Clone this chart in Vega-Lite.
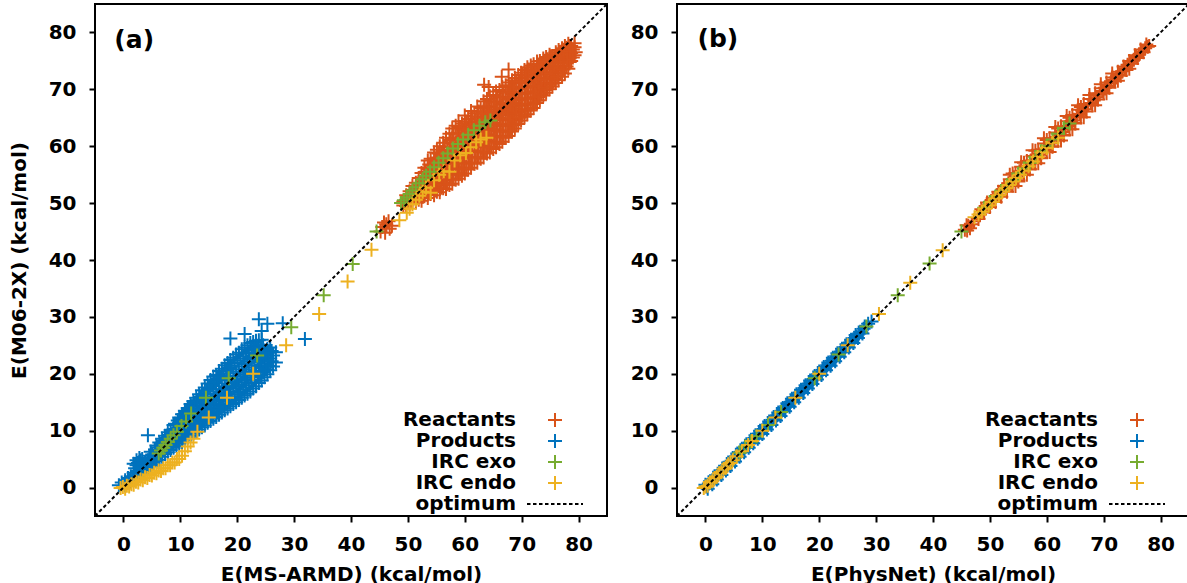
{
"$schema": "https://vega.github.io/schema/vega-lite/v6.json",
"padding": {"left": 8, "top": 3, "right": 0, "bottom": 0},
"bounds": "flush",
"spacing": 70,
"datasets": {
"a": [
{"series":"Reactants","x":45.5,"y":45.8},{"series":"Reactants","x":46.2,"y":46.3},{"series":"Reactants","x":46.8,"y":45.5},{"series":"Reactants","x":45.2,"y":45.0},{"series":"Reactants","x":46.0,"y":44.8},{"series":"Reactants","x":46.6,"y":46.8},{"series":"Reactants","x":47.2,"y":46.0},{"series":"Reactants","x":45.8,"y":46.6},
{"series":"Reactants","x":49.2,"y":49.6},{"series":"Reactants","x":49.2,"y":50.3},
{"series":"Reactants","x":49.7,"y":49.5},{"series":"Reactants","x":49.7,"y":50.6},{"series":"Reactants","x":49.7,"y":51.4},
{"series":"Reactants","x":50.3,"y":49.8},{"series":"Reactants","x":50.3,"y":51.0},{"series":"Reactants","x":50.3,"y":52.1},
{"series":"Reactants","x":50.8,"y":50.2},{"series":"Reactants","x":50.8,"y":51.5},{"series":"Reactants","x":50.8,"y":53.0},
{"series":"Reactants","x":51.4,"y":50.1},{"series":"Reactants","x":51.4,"y":51.9},{"series":"Reactants","x":51.4,"y":53.6},
{"series":"Reactants","x":51.9,"y":50.6},{"series":"Reactants","x":51.9,"y":52.6},{"series":"Reactants","x":51.9,"y":54.4},
{"series":"Reactants","x":52.4,"y":50.4},{"series":"Reactants","x":52.4,"y":51.8},{"series":"Reactants","x":52.4,"y":53.5},{"series":"Reactants","x":52.4,"y":55.3},
{"series":"Reactants","x":52.9,"y":51.2},{"series":"Reactants","x":52.9,"y":53.0},{"series":"Reactants","x":52.9,"y":54.7},{"series":"Reactants","x":52.9,"y":56.2},
{"series":"Reactants","x":53.5,"y":50.9},{"series":"Reactants","x":53.5,"y":52.4},{"series":"Reactants","x":53.5,"y":54.3},{"series":"Reactants","x":53.5,"y":56.0},{"series":"Reactants","x":53.5,"y":57.5},
{"series":"Reactants","x":54.0,"y":51.6},{"series":"Reactants","x":54.0,"y":53.4},{"series":"Reactants","x":54.0,"y":55.5},{"series":"Reactants","x":54.0,"y":57.8},
{"series":"Reactants","x":54.6,"y":51.4},{"series":"Reactants","x":54.6,"y":52.9},{"series":"Reactants","x":54.6,"y":54.8},{"series":"Reactants","x":54.6,"y":56.6},{"series":"Reactants","x":54.6,"y":58.9},
{"series":"Reactants","x":55.1,"y":52.0},{"series":"Reactants","x":55.1,"y":54.1},{"series":"Reactants","x":55.1,"y":56.2},{"series":"Reactants","x":55.1,"y":58.0},{"series":"Reactants","x":55.1,"y":59.4},
{"series":"Reactants","x":55.6,"y":51.9},{"series":"Reactants","x":55.6,"y":53.5},{"series":"Reactants","x":55.6,"y":55.6},{"series":"Reactants","x":55.6,"y":57.7},{"series":"Reactants","x":55.6,"y":60.0},
{"series":"Reactants","x":56.2,"y":52.6},{"series":"Reactants","x":56.2,"y":54.6},{"series":"Reactants","x":56.2,"y":56.9},{"series":"Reactants","x":56.2,"y":59.1},{"series":"Reactants","x":56.2,"y":60.6},
{"series":"Reactants","x":56.7,"y":52.5},{"series":"Reactants","x":56.7,"y":54.0},{"series":"Reactants","x":56.7,"y":56.0},{"series":"Reactants","x":56.7,"y":58.3},{"series":"Reactants","x":56.7,"y":61.5},
{"series":"Reactants","x":57.3,"y":53.2},{"series":"Reactants","x":57.3,"y":55.4},{"series":"Reactants","x":57.3,"y":57.6},{"series":"Reactants","x":57.3,"y":59.9},{"series":"Reactants","x":57.3,"y":62.2},
{"series":"Reactants","x":57.8,"y":53.4},{"series":"Reactants","x":57.8,"y":55.0},{"series":"Reactants","x":57.8,"y":57.0},{"series":"Reactants","x":57.8,"y":59.3},{"series":"Reactants","x":57.8,"y":61.4},{"series":"Reactants","x":57.8,"y":63.1},
{"series":"Reactants","x":58.4,"y":54.1},{"series":"Reactants","x":58.4,"y":56.3},{"series":"Reactants","x":58.4,"y":58.5},{"series":"Reactants","x":58.4,"y":60.7},{"series":"Reactants","x":58.4,"y":63.6},
{"series":"Reactants","x":58.9,"y":54.3},{"series":"Reactants","x":58.9,"y":56.0},{"series":"Reactants","x":58.9,"y":58.0},{"series":"Reactants","x":58.9,"y":60.2},{"series":"Reactants","x":58.9,"y":62.3},{"series":"Reactants","x":58.9,"y":64.4},
{"series":"Reactants","x":59.5,"y":54.8},{"series":"Reactants","x":59.5,"y":57.2},{"series":"Reactants","x":59.5,"y":59.4},{"series":"Reactants","x":59.5,"y":61.7},{"series":"Reactants","x":59.5,"y":64.0},
{"series":"Reactants","x":60.0,"y":55.2},{"series":"Reactants","x":60.0,"y":57.0},{"series":"Reactants","x":60.0,"y":59.0},{"series":"Reactants","x":60.0,"y":61.0},{"series":"Reactants","x":60.0,"y":63.2},{"series":"Reactants","x":60.0,"y":65.4},
{"series":"Reactants","x":60.6,"y":55.9},{"series":"Reactants","x":60.6,"y":58.1},{"series":"Reactants","x":60.6,"y":60.3},{"series":"Reactants","x":60.6,"y":62.6},{"series":"Reactants","x":60.6,"y":64.8},
{"series":"Reactants","x":61.1,"y":56.2},{"series":"Reactants","x":61.1,"y":58.0},{"series":"Reactants","x":61.1,"y":60.0},{"series":"Reactants","x":61.1,"y":62.1},{"series":"Reactants","x":61.1,"y":64.2},{"series":"Reactants","x":61.1,"y":66.2},
{"series":"Reactants","x":61.7,"y":56.9},{"series":"Reactants","x":61.7,"y":59.2},{"series":"Reactants","x":61.7,"y":61.5},{"series":"Reactants","x":61.7,"y":63.6},{"series":"Reactants","x":61.7,"y":65.8},
{"series":"Reactants","x":62.2,"y":57.1},{"series":"Reactants","x":62.2,"y":59.0},{"series":"Reactants","x":62.2,"y":61.0},{"series":"Reactants","x":62.2,"y":63.1},{"series":"Reactants","x":62.2,"y":65.2},{"series":"Reactants","x":62.2,"y":67.0},
{"series":"Reactants","x":62.8,"y":57.8},{"series":"Reactants","x":62.8,"y":60.2},{"series":"Reactants","x":62.8,"y":62.4},{"series":"Reactants","x":62.8,"y":64.6},{"series":"Reactants","x":62.8,"y":66.7},
{"series":"Reactants","x":63.3,"y":58.0},{"series":"Reactants","x":63.3,"y":59.8},{"series":"Reactants","x":63.3,"y":61.9},{"series":"Reactants","x":63.3,"y":64.0},{"series":"Reactants","x":63.3,"y":66.1},{"series":"Reactants","x":63.3,"y":67.9},
{"series":"Reactants","x":63.9,"y":58.7},{"series":"Reactants","x":63.9,"y":61.0},{"series":"Reactants","x":63.9,"y":63.2},{"series":"Reactants","x":63.9,"y":65.5},{"series":"Reactants","x":63.9,"y":68.3},
{"series":"Reactants","x":64.4,"y":58.9},{"series":"Reactants","x":64.4,"y":60.7},{"series":"Reactants","x":64.4,"y":62.8},{"series":"Reactants","x":64.4,"y":64.9},{"series":"Reactants","x":64.4,"y":67.0},{"series":"Reactants","x":64.4,"y":68.8},
{"series":"Reactants","x":65.0,"y":59.5},{"series":"Reactants","x":65.0,"y":61.8},{"series":"Reactants","x":65.0,"y":64.1},{"series":"Reactants","x":65.0,"y":66.4},{"series":"Reactants","x":65.0,"y":69.0},
{"series":"Reactants","x":65.5,"y":59.8},{"series":"Reactants","x":65.5,"y":61.6},{"series":"Reactants","x":65.5,"y":63.6},{"series":"Reactants","x":65.5,"y":65.7},{"series":"Reactants","x":65.5,"y":67.8},{"series":"Reactants","x":65.5,"y":69.6},
{"series":"Reactants","x":66.1,"y":60.4},{"series":"Reactants","x":66.1,"y":62.7},{"series":"Reactants","x":66.1,"y":65.0},{"series":"Reactants","x":66.1,"y":67.3},{"series":"Reactants","x":66.1,"y":69.9},
{"series":"Reactants","x":66.6,"y":60.8},{"series":"Reactants","x":66.6,"y":62.6},{"series":"Reactants","x":66.6,"y":64.6},{"series":"Reactants","x":66.6,"y":66.6},{"series":"Reactants","x":66.6,"y":68.6},{"series":"Reactants","x":66.6,"y":70.4},
{"series":"Reactants","x":67.2,"y":61.5},{"series":"Reactants","x":67.2,"y":63.7},{"series":"Reactants","x":67.2,"y":65.9},{"series":"Reactants","x":67.2,"y":68.2},{"series":"Reactants","x":67.2,"y":70.7},
{"series":"Reactants","x":67.7,"y":61.8},{"series":"Reactants","x":67.7,"y":63.6},{"series":"Reactants","x":67.7,"y":65.5},{"series":"Reactants","x":67.7,"y":67.5},{"series":"Reactants","x":67.7,"y":69.5},{"series":"Reactants","x":67.7,"y":71.2},
{"series":"Reactants","x":68.3,"y":62.6},{"series":"Reactants","x":68.3,"y":64.8},{"series":"Reactants","x":68.3,"y":67.0},{"series":"Reactants","x":68.3,"y":69.2},{"series":"Reactants","x":68.3,"y":71.6},
{"series":"Reactants","x":68.8,"y":63.1},{"series":"Reactants","x":68.8,"y":64.8},{"series":"Reactants","x":68.8,"y":66.6},{"series":"Reactants","x":68.8,"y":68.5},{"series":"Reactants","x":68.8,"y":70.4},{"series":"Reactants","x":68.8,"y":72.0},
{"series":"Reactants","x":69.4,"y":63.9},{"series":"Reactants","x":69.4,"y":66.0},{"series":"Reactants","x":69.4,"y":68.1},{"series":"Reactants","x":69.4,"y":70.2},{"series":"Reactants","x":69.4,"y":72.5},
{"series":"Reactants","x":69.9,"y":64.5},{"series":"Reactants","x":69.9,"y":66.3},{"series":"Reactants","x":69.9,"y":68.2},{"series":"Reactants","x":69.9,"y":70.1},{"series":"Reactants","x":69.9,"y":72.0},{"series":"Reactants","x":69.9,"y":72.9},
{"series":"Reactants","x":70.5,"y":65.2},{"series":"Reactants","x":70.5,"y":67.3},{"series":"Reactants","x":70.5,"y":69.4},{"series":"Reactants","x":70.5,"y":71.5},{"series":"Reactants","x":70.5,"y":73.4},
{"series":"Reactants","x":71.0,"y":65.6},{"series":"Reactants","x":71.0,"y":67.4},{"series":"Reactants","x":71.0,"y":69.3},{"series":"Reactants","x":71.0,"y":71.2},{"series":"Reactants","x":71.0,"y":73.0},{"series":"Reactants","x":71.0,"y":73.9},
{"series":"Reactants","x":71.6,"y":66.3},{"series":"Reactants","x":71.6,"y":68.4},{"series":"Reactants","x":71.6,"y":70.5},{"series":"Reactants","x":71.6,"y":72.6},{"series":"Reactants","x":71.6,"y":74.2},
{"series":"Reactants","x":72.1,"y":66.7},{"series":"Reactants","x":72.1,"y":68.6},{"series":"Reactants","x":72.1,"y":70.5},{"series":"Reactants","x":72.1,"y":72.4},{"series":"Reactants","x":72.1,"y":74.4},
{"series":"Reactants","x":72.7,"y":67.6},{"series":"Reactants","x":72.7,"y":69.6},{"series":"Reactants","x":72.7,"y":71.6},{"series":"Reactants","x":72.7,"y":73.5},{"series":"Reactants","x":72.7,"y":74.9},
{"series":"Reactants","x":73.2,"y":68.1},{"series":"Reactants","x":73.2,"y":70.0},{"series":"Reactants","x":73.2,"y":71.9},{"series":"Reactants","x":73.2,"y":73.8},{"series":"Reactants","x":73.2,"y":75.0},
{"series":"Reactants","x":73.8,"y":68.9},{"series":"Reactants","x":73.8,"y":70.8},{"series":"Reactants","x":73.8,"y":72.6},{"series":"Reactants","x":73.8,"y":74.4},{"series":"Reactants","x":73.8,"y":75.4},
{"series":"Reactants","x":74.3,"y":69.4},{"series":"Reactants","x":74.3,"y":71.2},{"series":"Reactants","x":74.3,"y":73.0},{"series":"Reactants","x":74.3,"y":74.8},{"series":"Reactants","x":74.3,"y":75.7},
{"series":"Reactants","x":74.9,"y":70.0},{"series":"Reactants","x":74.9,"y":71.9},{"series":"Reactants","x":74.9,"y":73.7},{"series":"Reactants","x":74.9,"y":75.4},{"series":"Reactants","x":74.9,"y":76.1},
{"series":"Reactants","x":75.4,"y":70.5},{"series":"Reactants","x":75.4,"y":72.3},{"series":"Reactants","x":75.4,"y":74.1},{"series":"Reactants","x":75.4,"y":75.8},
{"series":"Reactants","x":76.0,"y":71.1},{"series":"Reactants","x":76.0,"y":73.0},{"series":"Reactants","x":76.0,"y":74.8},{"series":"Reactants","x":76.0,"y":76.5},
{"series":"Reactants","x":76.5,"y":71.6},{"series":"Reactants","x":76.5,"y":73.4},{"series":"Reactants","x":76.5,"y":75.2},{"series":"Reactants","x":76.5,"y":76.9},
{"series":"Reactants","x":77.1,"y":72.2},{"series":"Reactants","x":77.1,"y":74.1},{"series":"Reactants","x":77.1,"y":75.9},{"series":"Reactants","x":77.1,"y":77.2},
{"series":"Reactants","x":77.6,"y":72.8},{"series":"Reactants","x":77.6,"y":74.6},{"series":"Reactants","x":77.6,"y":76.3},{"series":"Reactants","x":77.6,"y":77.6},
{"series":"Reactants","x":78.2,"y":73.6},{"series":"Reactants","x":78.2,"y":75.3},{"series":"Reactants","x":78.2,"y":76.9},{"series":"Reactants","x":78.2,"y":78.0},
{"series":"Reactants","x":78.7,"y":75.0},{"series":"Reactants","x":78.7,"y":76.4},{"series":"Reactants","x":78.7,"y":77.6},
{"series":"Reactants","x":79.3,"y":76.0},{"series":"Reactants","x":79.3,"y":77.4},
{"series":"Reactants","x":49.45,"y":50.0},{"series":"Reactants","x":49.95,"y":50.1},{"series":"Reactants","x":49.95,"y":51.0},{"series":"Reactants","x":50.55,"y":50.4},{"series":"Reactants","x":50.55,"y":51.6},{"series":"Reactants","x":51.05,"y":50.9},{"series":"Reactants","x":51.05,"y":52.3},{"series":"Reactants","x":51.65,"y":51.0},{"series":"Reactants","x":51.65,"y":52.8},{"series":"Reactants","x":52.15,"y":51.6},{"series":"Reactants","x":52.15,"y":53.5},
{"series":"Reactants","x":52.65,"y":51.1},{"series":"Reactants","x":52.65,"y":52.6},{"series":"Reactants","x":52.65,"y":54.4},{"series":"Reactants","x":53.15,"y":52.1},{"series":"Reactants","x":53.15,"y":53.9},{"series":"Reactants","x":53.15,"y":55.5},
{"series":"Reactants","x":53.75,"y":51.7},{"series":"Reactants","x":53.75,"y":53.4},{"series":"Reactants","x":53.75,"y":55.2},{"series":"Reactants","x":53.75,"y":56.8},{"series":"Reactants","x":54.25,"y":52.5},{"series":"Reactants","x":54.25,"y":54.5},{"series":"Reactants","x":54.25,"y":56.7},
{"series":"Reactants","x":54.85,"y":52.2},{"series":"Reactants","x":54.85,"y":53.9},{"series":"Reactants","x":54.85,"y":55.7},{"series":"Reactants","x":54.85,"y":57.8},{"series":"Reactants","x":55.35,"y":53.1},{"series":"Reactants","x":55.35,"y":55.2},{"series":"Reactants","x":55.35,"y":57.1},{"series":"Reactants","x":55.35,"y":58.7},
{"series":"Reactants","x":55.85,"y":52.7},{"series":"Reactants","x":55.85,"y":54.6},{"series":"Reactants","x":55.85,"y":56.7},{"series":"Reactants","x":55.85,"y":58.9},{"series":"Reactants","x":56.45,"y":53.6},{"series":"Reactants","x":56.45,"y":55.8},{"series":"Reactants","x":56.45,"y":58.0},{"series":"Reactants","x":56.45,"y":59.9},
{"series":"Reactants","x":56.95,"y":53.3},{"series":"Reactants","x":56.95,"y":55.0},{"series":"Reactants","x":56.95,"y":57.2},{"series":"Reactants","x":56.95,"y":59.9},{"series":"Reactants","x":57.55,"y":54.3},{"series":"Reactants","x":57.55,"y":56.5},{"series":"Reactants","x":57.55,"y":58.8},{"series":"Reactants","x":57.55,"y":61.1},
{"series":"Reactants","x":58.05,"y":54.2},{"series":"Reactants","x":58.05,"y":56.0},{"series":"Reactants","x":58.05,"y":58.2},{"series":"Reactants","x":58.05,"y":60.4},{"series":"Reactants","x":58.05,"y":62.3},
{"series":"Reactants","x":58.65,"y":55.2},{"series":"Reactants","x":58.65,"y":57.4},{"series":"Reactants","x":58.65,"y":59.6},{"series":"Reactants","x":58.65,"y":62.2},
{"series":"Reactants","x":59.15,"y":55.2},{"series":"Reactants","x":59.15,"y":57.0},{"series":"Reactants","x":59.15,"y":59.1},{"series":"Reactants","x":59.15,"y":61.3},{"series":"Reactants","x":59.15,"y":63.4},
{"series":"Reactants","x":59.75,"y":56.0},{"series":"Reactants","x":59.75,"y":58.3},{"series":"Reactants","x":59.75,"y":60.6},{"series":"Reactants","x":59.75,"y":62.9},
{"series":"Reactants","x":60.25,"y":56.1},{"series":"Reactants","x":60.25,"y":58.0},{"series":"Reactants","x":60.25,"y":60.0},{"series":"Reactants","x":60.25,"y":62.1},{"series":"Reactants","x":60.25,"y":64.3},
{"series":"Reactants","x":60.85,"y":57.0},{"series":"Reactants","x":60.85,"y":59.2},{"series":"Reactants","x":60.85,"y":61.5},{"series":"Reactants","x":60.85,"y":63.7},
{"series":"Reactants","x":61.35,"y":57.1},{"series":"Reactants","x":61.35,"y":59.0},{"series":"Reactants","x":61.35,"y":61.1},{"series":"Reactants","x":61.35,"y":63.2},{"series":"Reactants","x":61.35,"y":65.2},
{"series":"Reactants","x":61.95,"y":58.1},{"series":"Reactants","x":61.95,"y":60.4},{"series":"Reactants","x":61.95,"y":62.6},{"series":"Reactants","x":61.95,"y":64.7},
{"series":"Reactants","x":62.45,"y":58.1},{"series":"Reactants","x":62.45,"y":60.0},{"series":"Reactants","x":62.45,"y":62.1},{"series":"Reactants","x":62.45,"y":64.2},{"series":"Reactants","x":62.45,"y":66.1},
{"series":"Reactants","x":63.05,"y":59.0},{"series":"Reactants","x":63.05,"y":61.3},{"series":"Reactants","x":63.05,"y":63.5},{"series":"Reactants","x":63.05,"y":65.7},
{"series":"Reactants","x":63.55,"y":58.9},{"series":"Reactants","x":63.55,"y":60.9},{"series":"Reactants","x":63.55,"y":63.0},{"series":"Reactants","x":63.55,"y":65.1},{"series":"Reactants","x":63.55,"y":67.0},
{"series":"Reactants","x":64.15,"y":59.9},{"series":"Reactants","x":64.15,"y":62.1},{"series":"Reactants","x":64.15,"y":64.4},{"series":"Reactants","x":64.15,"y":66.9},
{"series":"Reactants","x":64.65,"y":59.8},{"series":"Reactants","x":64.65,"y":61.8},{"series":"Reactants","x":64.65,"y":63.9},{"series":"Reactants","x":64.65,"y":66.0},{"series":"Reactants","x":64.65,"y":67.9},
{"series":"Reactants","x":65.25,"y":60.7},{"series":"Reactants","x":65.25,"y":63.0},{"series":"Reactants","x":65.25,"y":65.3},{"series":"Reactants","x":65.25,"y":67.7},
{"series":"Reactants","x":65.75,"y":60.7},{"series":"Reactants","x":65.75,"y":62.6},{"series":"Reactants","x":65.75,"y":64.7},{"series":"Reactants","x":65.75,"y":66.8},{"series":"Reactants","x":65.75,"y":68.7},
{"series":"Reactants","x":66.35,"y":61.6},{"series":"Reactants","x":66.35,"y":63.9},{"series":"Reactants","x":66.35,"y":66.2},{"series":"Reactants","x":66.35,"y":68.6},
{"series":"Reactants","x":66.85,"y":61.7},{"series":"Reactants","x":66.85,"y":63.6},{"series":"Reactants","x":66.85,"y":65.6},{"series":"Reactants","x":66.85,"y":67.6},{"series":"Reactants","x":66.85,"y":69.5},
{"series":"Reactants","x":67.45,"y":62.6},{"series":"Reactants","x":67.45,"y":64.8},{"series":"Reactants","x":67.45,"y":67.1},{"series":"Reactants","x":67.45,"y":69.5},
{"series":"Reactants","x":67.95,"y":62.7},{"series":"Reactants","x":67.95,"y":64.6},{"series":"Reactants","x":67.95,"y":66.5},{"series":"Reactants","x":67.95,"y":68.5},{"series":"Reactants","x":67.95,"y":70.4},
{"series":"Reactants","x":68.55,"y":63.7},{"series":"Reactants","x":68.55,"y":65.9},{"series":"Reactants","x":68.55,"y":68.1},{"series":"Reactants","x":68.55,"y":70.4},
{"series":"Reactants","x":69.05,"y":64.0},{"series":"Reactants","x":69.05,"y":65.7},{"series":"Reactants","x":69.05,"y":67.6},{"series":"Reactants","x":69.05,"y":69.5},{"series":"Reactants","x":69.05,"y":71.2},
{"series":"Reactants","x":69.65,"y":65.0},{"series":"Reactants","x":69.65,"y":67.1},{"series":"Reactants","x":69.65,"y":69.2},{"series":"Reactants","x":69.65,"y":71.4},
{"series":"Reactants","x":70.15,"y":65.4},{"series":"Reactants","x":70.15,"y":67.3},{"series":"Reactants","x":70.15,"y":69.2},{"series":"Reactants","x":70.15,"y":71.1},{"series":"Reactants","x":70.15,"y":72.5},
{"series":"Reactants","x":70.75,"y":66.3},{"series":"Reactants","x":70.75,"y":68.4},{"series":"Reactants","x":70.75,"y":70.5},{"series":"Reactants","x":70.75,"y":72.5},
{"series":"Reactants","x":71.25,"y":66.5},{"series":"Reactants","x":71.25,"y":68.4},{"series":"Reactants","x":71.25,"y":70.3},{"series":"Reactants","x":71.25,"y":72.1},{"series":"Reactants","x":71.25,"y":73.5},
{"series":"Reactants","x":71.85,"y":67.4},{"series":"Reactants","x":71.85,"y":69.5},{"series":"Reactants","x":71.85,"y":71.6},{"series":"Reactants","x":71.85,"y":73.4},
{"series":"Reactants","x":72.35,"y":67.7},{"series":"Reactants","x":72.35,"y":69.6},{"series":"Reactants","x":72.35,"y":71.5},{"series":"Reactants","x":72.35,"y":73.4},
{"series":"Reactants","x":72.95,"y":68.6},{"series":"Reactants","x":72.95,"y":70.6},{"series":"Reactants","x":72.95,"y":72.6},{"series":"Reactants","x":72.95,"y":74.2},
{"series":"Reactants","x":73.45,"y":69.1},{"series":"Reactants","x":73.45,"y":71.0},{"series":"Reactants","x":73.45,"y":72.9},{"series":"Reactants","x":73.45,"y":74.4},
{"series":"Reactants","x":74.05,"y":69.9},{"series":"Reactants","x":74.05,"y":71.7},{"series":"Reactants","x":74.05,"y":73.5},{"series":"Reactants","x":74.05,"y":74.9},
{"series":"Reactants","x":74.55,"y":70.3},{"series":"Reactants","x":74.55,"y":72.1},{"series":"Reactants","x":74.55,"y":73.9},{"series":"Reactants","x":74.55,"y":75.3},
{"series":"Reactants","x":75.15,"y":71.0},{"series":"Reactants","x":75.15,"y":72.8},{"series":"Reactants","x":75.15,"y":74.6},{"series":"Reactants","x":75.15,"y":75.8},
{"series":"Reactants","x":75.7,"y":71.8},{"series":"Reactants","x":75.7,"y":73.7},{"series":"Reactants","x":75.7,"y":75.2},
{"series":"Reactants","x":76.25,"y":72.3},{"series":"Reactants","x":76.25,"y":74.1},{"series":"Reactants","x":76.25,"y":75.9},
{"series":"Reactants","x":76.8,"y":72.9},{"series":"Reactants","x":76.8,"y":74.8},{"series":"Reactants","x":76.8,"y":76.6},
{"series":"Reactants","x":77.35,"y":73.5},{"series":"Reactants","x":77.35,"y":75.3},{"series":"Reactants","x":77.35,"y":76.8},
{"series":"Reactants","x":77.9,"y":74.0},{"series":"Reactants","x":77.9,"y":75.7},{"series":"Reactants","x":77.9,"y":77.3},
{"series":"Reactants","x":78.45,"y":74.8},{"series":"Reactants","x":78.45,"y":76.6},{"series":"Reactants","x":78.45,"y":77.6},
{"series":"Reactants","x":79.0,"y":75.6},{"series":"Reactants","x":79.0,"y":77.0},
{"series":"Reactants","x":63.4,"y":70.8},{"series":"Reactants","x":67.7,"y":73.5},{"series":"Reactants","x":64.2,"y":70.4},{"series":"Reactants","x":66.5,"y":72.2},{"series":"Reactants","x":79.3,"y":78.1},{"series":"Reactants","x":78.0,"y":75.2},{"series":"Reactants","x":79.5,"y":76.5},
{"series":"Products","x":-0.8,"y":0.4},{"series":"Products","x":-0.3,"y":0.9},{"series":"Products","x":0.3,"y":0.4},{"series":"Products","x":0.3,"y":1.3},{"series":"Products","x":0.8,"y":0.9},{"series":"Products","x":0.8,"y":1.7},{"series":"Products","x":1.3,"y":1.0},{"series":"Products","x":1.3,"y":2.0},
{"series":"Products","x":1.8,"y":1.4},{"series":"Products","x":1.8,"y":2.6},{"series":"Products","x":1.8,"y":4.2},{"series":"Products","x":2.3,"y":1.8},{"series":"Products","x":2.3,"y":3.9},{"series":"Products","x":2.3,"y":4.8},{"series":"Products","x":2.8,"y":2.2},{"series":"Products","x":2.8,"y":4.5},{"series":"Products","x":2.8,"y":5.2},
{"series":"Products","x":3.3,"y":2.6},{"series":"Products","x":3.3,"y":4.0},{"series":"Products","x":3.3,"y":5.0},{"series":"Products","x":3.8,"y":3.0},{"series":"Products","x":3.8,"y":4.4},{"series":"Products","x":4.3,"y":3.3},{"series":"Products","x":4.3,"y":4.8},{"series":"Products","x":4.3,"y":9.2},
{"series":"Products","x":4.8,"y":3.8},{"series":"Products","x":4.8,"y":5.3},{"series":"Products","x":4.8,"y":6.3},{"series":"Products","x":5.3,"y":4.1},{"series":"Products","x":5.3,"y":5.6},{"series":"Products","x":5.8,"y":4.6},{"series":"Products","x":5.8,"y":6.0},{"series":"Products","x":5.8,"y":7.4},
{"series":"Products","x":6.3,"y":4.9},{"series":"Products","x":6.3,"y":6.4},{"series":"Products","x":6.3,"y":7.9},{"series":"Products","x":6.8,"y":5.4},{"series":"Products","x":6.8,"y":7.0},{"series":"Products","x":6.8,"y":8.6},{"series":"Products","x":7.3,"y":5.9},{"series":"Products","x":7.3,"y":7.5},{"series":"Products","x":7.3,"y":9.1},
{"series":"Products","x":7.8,"y":6.2},{"series":"Products","x":7.8,"y":7.9},{"series":"Products","x":7.8,"y":9.7},{"series":"Products","x":8.3,"y":6.6},{"series":"Products","x":8.3,"y":8.3},{"series":"Products","x":8.3,"y":10.1},
{"series":"Products","x":8.8,"y":7.0},{"series":"Products","x":8.8,"y":8.6},{"series":"Products","x":8.8,"y":10.3},{"series":"Products","x":8.8,"y":11.0},{"series":"Products","x":9.3,"y":7.3},{"series":"Products","x":9.3,"y":9.1},{"series":"Products","x":9.3,"y":10.9},
{"series":"Products","x":9.8,"y":7.7},{"series":"Products","x":9.8,"y":9.5},{"series":"Products","x":9.8,"y":11.3},{"series":"Products","x":9.8,"y":12.3},{"series":"Products","x":10.3,"y":8.0},{"series":"Products","x":10.3,"y":9.8},{"series":"Products","x":10.3,"y":11.6},{"series":"Products","x":10.3,"y":12.9},
{"series":"Products","x":10.8,"y":8.4},{"series":"Products","x":10.8,"y":10.3},{"series":"Products","x":10.8,"y":12.1},{"series":"Products","x":10.8,"y":13.5},{"series":"Products","x":11.3,"y":8.8},{"series":"Products","x":11.3,"y":10.6},{"series":"Products","x":11.3,"y":12.5},{"series":"Products","x":11.3,"y":14.0},
{"series":"Products","x":11.8,"y":9.1},{"series":"Products","x":11.8,"y":11.0},{"series":"Products","x":11.8,"y":12.9},{"series":"Products","x":11.8,"y":14.7},{"series":"Products","x":12.3,"y":9.5},{"series":"Products","x":12.3,"y":11.5},{"series":"Products","x":12.3,"y":13.5},{"series":"Products","x":12.3,"y":15.2},
{"series":"Products","x":12.8,"y":9.8},{"series":"Products","x":12.8,"y":11.8},{"series":"Products","x":12.8,"y":13.9},{"series":"Products","x":12.8,"y":15.8},{"series":"Products","x":13.3,"y":10.2},{"series":"Products","x":13.3,"y":12.3},{"series":"Products","x":13.3,"y":14.4},{"series":"Products","x":13.3,"y":16.4},
{"series":"Products","x":13.8,"y":10.6},{"series":"Products","x":13.8,"y":12.7},{"series":"Products","x":13.8,"y":14.9},{"series":"Products","x":13.8,"y":17.1},{"series":"Products","x":14.3,"y":10.9},{"series":"Products","x":14.3,"y":13.1},{"series":"Products","x":14.3,"y":15.3},{"series":"Products","x":14.3,"y":17.6},
{"series":"Products","x":14.8,"y":11.4},{"series":"Products","x":14.8,"y":13.6},{"series":"Products","x":14.8,"y":15.9},{"series":"Products","x":14.8,"y":18.3},{"series":"Products","x":15.3,"y":11.7},{"series":"Products","x":15.3,"y":14.0},{"series":"Products","x":15.3,"y":16.4},{"series":"Products","x":15.3,"y":18.9},
{"series":"Products","x":15.8,"y":12.1},{"series":"Products","x":15.8,"y":14.5},{"series":"Products","x":15.8,"y":16.9},{"series":"Products","x":15.8,"y":19.5},{"series":"Products","x":16.3,"y":12.4},{"series":"Products","x":16.3,"y":14.8},{"series":"Products","x":16.3,"y":17.3},{"series":"Products","x":16.3,"y":19.8},
{"series":"Products","x":16.8,"y":12.8},{"series":"Products","x":16.8,"y":15.3},{"series":"Products","x":16.8,"y":17.8},{"series":"Products","x":16.8,"y":20.5},{"series":"Products","x":17.3,"y":13.2},{"series":"Products","x":17.3,"y":15.7},{"series":"Products","x":17.3,"y":18.3},{"series":"Products","x":17.3,"y":20.9},
{"series":"Products","x":17.8,"y":13.6},{"series":"Products","x":17.8,"y":16.2},{"series":"Products","x":17.8,"y":18.8},{"series":"Products","x":17.8,"y":21.5},{"series":"Products","x":18.3,"y":13.9},{"series":"Products","x":18.3,"y":16.5},{"series":"Products","x":18.3,"y":19.1},{"series":"Products","x":18.3,"y":21.9},
{"series":"Products","x":18.8,"y":14.3},{"series":"Products","x":18.8,"y":16.9},{"series":"Products","x":18.8,"y":19.6},{"series":"Products","x":18.8,"y":22.4},{"series":"Products","x":18.8,"y":26.2},{"series":"Products","x":19.3,"y":14.7},{"series":"Products","x":19.3,"y":17.4},{"series":"Products","x":19.3,"y":20.1},{"series":"Products","x":19.3,"y":22.8},
{"series":"Products","x":19.8,"y":15.0},{"series":"Products","x":19.8,"y":17.7},{"series":"Products","x":19.8,"y":20.4},{"series":"Products","x":19.8,"y":23.4},{"series":"Products","x":20.3,"y":15.4},{"series":"Products","x":20.3,"y":18.1},{"series":"Products","x":20.3,"y":20.8},{"series":"Products","x":20.3,"y":23.7},
{"series":"Products","x":20.8,"y":15.8},{"series":"Products","x":20.8,"y":18.5},{"series":"Products","x":20.8,"y":21.3},{"series":"Products","x":20.8,"y":24.3},{"series":"Products","x":21.3,"y":16.2},{"series":"Products","x":21.3,"y":18.9},{"series":"Products","x":21.3,"y":21.7},{"series":"Products","x":21.3,"y":24.6},{"series":"Products","x":21.3,"y":27.0},
{"series":"Products","x":21.8,"y":16.5},{"series":"Products","x":21.8,"y":19.3},{"series":"Products","x":21.8,"y":22.1},{"series":"Products","x":21.8,"y":25.0},{"series":"Products","x":22.3,"y":16.9},{"series":"Products","x":22.3,"y":19.7},{"series":"Products","x":22.3,"y":22.5},{"series":"Products","x":22.3,"y":25.4},
{"series":"Products","x":22.8,"y":17.4},{"series":"Products","x":22.8,"y":20.2},{"series":"Products","x":22.8,"y":22.9},{"series":"Products","x":22.8,"y":25.6},{"series":"Products","x":23.3,"y":17.8},{"series":"Products","x":23.3,"y":20.5},{"series":"Products","x":23.3,"y":23.2},{"series":"Products","x":23.3,"y":25.8},
{"series":"Products","x":23.8,"y":18.4},{"series":"Products","x":23.8,"y":21.0},{"series":"Products","x":23.8,"y":23.6},{"series":"Products","x":23.8,"y":25.9},{"series":"Products","x":23.8,"y":29.6},{"series":"Products","x":24.3,"y":18.8},{"series":"Products","x":24.3,"y":21.3},{"series":"Products","x":24.3,"y":23.8},{"series":"Products","x":24.3,"y":26.0},{"series":"Products","x":24.3,"y":27.5},
{"series":"Products","x":24.8,"y":19.4},{"series":"Products","x":24.8,"y":21.8},{"series":"Products","x":24.8,"y":24.1},{"series":"Products","x":25.3,"y":19.9},{"series":"Products","x":25.3,"y":22.2},{"series":"Products","x":25.3,"y":24.4},{"series":"Products","x":25.3,"y":28.8},
{"series":"Products","x":25.8,"y":20.6},{"series":"Products","x":25.8,"y":22.7},{"series":"Products","x":25.8,"y":24.6},{"series":"Products","x":26.3,"y":21.3},{"series":"Products","x":26.3,"y":23.2},{"series":"Products","x":26.8,"y":22.0},{"series":"Products","x":26.8,"y":23.8},{"series":"Products","x":28.0,"y":28.9},{"series":"Products","x":31.9,"y":26.1},
{"series":"Products","x":1.05,"y":1.3},{"series":"Products","x":1.55,"y":1.5},{"series":"Products","x":2.05,"y":2.0},{"series":"Products","x":2.05,"y":3.4},{"series":"Products","x":2.55,"y":2.9},{"series":"Products","x":2.55,"y":4.3},{"series":"Products","x":3.05,"y":3.4},{"series":"Products","x":3.05,"y":4.8},{"series":"Products","x":3.55,"y":2.8},{"series":"Products","x":3.55,"y":4.2},{"series":"Products","x":4.05,"y":3.9},
{"series":"Products","x":4.55,"y":4.0},{"series":"Products","x":4.55,"y":5.6},{"series":"Products","x":5.05,"y":4.6},{"series":"Products","x":5.05,"y":5.8},{"series":"Products","x":5.55,"y":5.3},{"series":"Products","x":5.55,"y":6.7},{"series":"Products","x":6.05,"y":5.5},{"series":"Products","x":6.05,"y":7.1},{"series":"Products","x":6.55,"y":6.0},{"series":"Products","x":6.55,"y":7.6},
{"series":"Products","x":7.05,"y":6.6},{"series":"Products","x":7.05,"y":8.2},{"series":"Products","x":7.55,"y":7.0},{"series":"Products","x":7.55,"y":8.7},{"series":"Products","x":8.05,"y":7.4},{"series":"Products","x":8.05,"y":9.2},{"series":"Products","x":8.55,"y":7.7},{"series":"Products","x":8.55,"y":9.4},
{"series":"Products","x":9.05,"y":8.1},{"series":"Products","x":9.05,"y":9.9},{"series":"Products","x":9.05,"y":11.2},{"series":"Products","x":9.55,"y":8.5},{"series":"Products","x":9.55,"y":10.3},{"series":"Products","x":9.55,"y":11.8},{"series":"Products","x":10.05,"y":8.8},{"series":"Products","x":10.05,"y":10.6},{"series":"Products","x":10.05,"y":12.2},
{"series":"Products","x":10.55,"y":9.2},{"series":"Products","x":10.55,"y":11.1},{"series":"Products","x":10.55,"y":12.9},{"series":"Products","x":11.05,"y":9.6},{"series":"Products","x":11.05,"y":11.5},{"series":"Products","x":11.05,"y":13.3},{"series":"Products","x":11.55,"y":9.9},{"series":"Products","x":11.55,"y":11.9},{"series":"Products","x":11.55,"y":13.8},
{"series":"Products","x":12.05,"y":10.3},{"series":"Products","x":12.05,"y":12.3},{"series":"Products","x":12.05,"y":14.3},{"series":"Products","x":12.55,"y":10.6},{"series":"Products","x":12.55,"y":12.7},{"series":"Products","x":12.55,"y":14.8},{"series":"Products","x":13.05,"y":11.0},{"series":"Products","x":13.05,"y":13.1},{"series":"Products","x":13.05,"y":15.3},
{"series":"Products","x":13.55,"y":11.4},{"series":"Products","x":13.55,"y":13.6},{"series":"Products","x":13.55,"y":15.9},{"series":"Products","x":14.05,"y":11.8},{"series":"Products","x":14.05,"y":14.0},{"series":"Products","x":14.05,"y":16.4},{"series":"Products","x":14.55,"y":12.2},{"series":"Products","x":14.55,"y":14.5},{"series":"Products","x":14.55,"y":17.0},
{"series":"Products","x":15.05,"y":12.6},{"series":"Products","x":15.05,"y":14.9},{"series":"Products","x":15.05,"y":17.5},{"series":"Products","x":15.55,"y":13.0},{"series":"Products","x":15.55,"y":15.4},{"series":"Products","x":15.55,"y":18.1},{"series":"Products","x":16.05,"y":13.3},{"series":"Products","x":16.05,"y":15.7},{"series":"Products","x":16.05,"y":18.5},
{"series":"Products","x":16.55,"y":13.7},{"series":"Products","x":16.55,"y":16.2},{"series":"Products","x":16.55,"y":19.1},{"series":"Products","x":17.05,"y":14.1},{"series":"Products","x":17.05,"y":16.6},{"series":"Products","x":17.05,"y":19.5},{"series":"Products","x":17.55,"y":14.5},{"series":"Products","x":17.55,"y":17.1},{"series":"Products","x":17.55,"y":20.1},
{"series":"Products","x":18.05,"y":14.8},{"series":"Products","x":18.05,"y":17.4},{"series":"Products","x":18.05,"y":20.5},{"series":"Products","x":18.55,"y":15.2},{"series":"Products","x":18.55,"y":17.8},{"series":"Products","x":18.55,"y":21.0},{"series":"Products","x":19.05,"y":15.6},{"series":"Products","x":19.05,"y":18.3},{"series":"Products","x":19.05,"y":21.4},
{"series":"Products","x":19.55,"y":16.0},{"series":"Products","x":19.55,"y":18.7},{"series":"Products","x":19.55,"y":21.9},{"series":"Products","x":20.05,"y":16.4},{"series":"Products","x":20.05,"y":19.1},{"series":"Products","x":20.05,"y":22.3},{"series":"Products","x":20.55,"y":16.8},{"series":"Products","x":20.55,"y":19.5},{"series":"Products","x":20.55,"y":22.7},
{"series":"Products","x":21.05,"y":17.2},{"series":"Products","x":21.05,"y":19.9},{"series":"Products","x":21.05,"y":23.1},{"series":"Products","x":21.55,"y":17.6},{"series":"Products","x":21.55,"y":20.3},{"series":"Products","x":21.55,"y":23.5},{"series":"Products","x":22.05,"y":18.0},{"series":"Products","x":22.05,"y":20.7},{"series":"Products","x":22.05,"y":23.8},
{"series":"Products","x":22.55,"y":18.4},{"series":"Products","x":22.55,"y":21.1},{"series":"Products","x":22.55,"y":24.2},{"series":"Products","x":23.05,"y":18.9},{"series":"Products","x":23.05,"y":21.5},{"series":"Products","x":23.05,"y":24.5},{"series":"Products","x":23.55,"y":19.4},{"series":"Products","x":23.55,"y":22.0},{"series":"Products","x":23.55,"y":24.8},
{"series":"Products","x":24.05,"y":19.8},{"series":"Products","x":24.05,"y":22.4},{"series":"Products","x":24.05,"y":24.9},{"series":"Products","x":24.55,"y":20.3},{"series":"Products","x":24.55,"y":22.8},{"series":"Products","x":24.55,"y":25.0},{"series":"Products","x":25.05,"y":20.8},{"series":"Products","x":25.05,"y":23.3},{"series":"Products","x":25.55,"y":21.4},{"series":"Products","x":25.55,"y":23.7},{"series":"Products","x":26.05,"y":22.2},{"series":"Products","x":26.05,"y":24.0},
{"series":"IRC exo","x":6.2,"y":6.0},{"series":"IRC exo","x":6.6,"y":6.5},{"series":"IRC exo","x":7.0,"y":7.0},{"series":"IRC exo","x":7.4,"y":7.5},{"series":"IRC exo","x":7.8,"y":8.0},{"series":"IRC exo","x":8.3,"y":8.6},{"series":"IRC exo","x":8.8,"y":9.2},{"series":"IRC exo","x":9.4,"y":9.8},{"series":"IRC exo","x":10.2,"y":10.8},{"series":"IRC exo","x":11.0,"y":11.6},{"series":"IRC exo","x":11.9,"y":13.0},{"series":"IRC exo","x":14.5,"y":15.8},{"series":"IRC exo","x":18.5,"y":19.2},{"series":"IRC exo","x":23.5,"y":23.2},{"series":"IRC exo","x":29.5,"y":28.2},{"series":"IRC exo","x":35.2,"y":33.8},{"series":"IRC exo","x":40.3,"y":39.3},{"series":"IRC exo","x":44.5,"y":45.0},
{"series":"IRC exo","x":48.8,"y":50.0},{"series":"IRC exo","x":49.3,"y":50.5},{"series":"IRC exo","x":49.8,"y":51.0},{"series":"IRC exo","x":50.3,"y":51.6},{"series":"IRC exo","x":50.8,"y":52.2},{"series":"IRC exo","x":51.4,"y":52.8},{"series":"IRC exo","x":52.0,"y":53.5},{"series":"IRC exo","x":52.6,"y":54.2},{"series":"IRC exo","x":53.2,"y":54.8},{"series":"IRC exo","x":53.9,"y":55.5},{"series":"IRC exo","x":54.6,"y":56.3},{"series":"IRC exo","x":55.4,"y":57.1},{"series":"IRC exo","x":56.2,"y":57.9},{"series":"IRC exo","x":57.0,"y":58.7},{"series":"IRC exo","x":57.9,"y":59.6},{"series":"IRC exo","x":58.8,"y":60.4},{"series":"IRC exo","x":59.7,"y":61.2},{"series":"IRC exo","x":60.6,"y":62.0},{"series":"IRC exo","x":61.6,"y":62.8},{"series":"IRC exo","x":62.6,"y":63.6},{"series":"IRC exo","x":63.6,"y":64.2},{"series":"IRC exo","x":64.5,"y":64.5},
{"series":"IRC endo","x":-0.5,"y":-0.1},{"series":"IRC endo","x":-0.1,"y":0.1},{"series":"IRC endo","x":0.3,"y":-0.2},{"series":"IRC endo","x":0.6,"y":0.3},{"series":"IRC endo","x":1.0,"y":0.2},{"series":"IRC endo","x":1.4,"y":0.6},{"series":"IRC endo","x":1.8,"y":0.5},{"series":"IRC endo","x":2.2,"y":1.0},{"series":"IRC endo","x":2.6,"y":0.9},{"series":"IRC endo","x":3.0,"y":1.4},{"series":"IRC endo","x":3.4,"y":1.3},{"series":"IRC endo","x":3.8,"y":1.8},{"series":"IRC endo","x":4.2,"y":1.7},{"series":"IRC endo","x":4.6,"y":2.2},{"series":"IRC endo","x":5.0,"y":2.1},{"series":"IRC endo","x":5.4,"y":2.6},{"series":"IRC endo","x":5.8,"y":2.5},{"series":"IRC endo","x":6.2,"y":3.0},{"series":"IRC endo","x":6.6,"y":2.9},{"series":"IRC endo","x":7.0,"y":3.4},{"series":"IRC endo","x":7.4,"y":3.4},{"series":"IRC endo","x":7.8,"y":3.9},{"series":"IRC endo","x":8.2,"y":3.9},{"series":"IRC endo","x":8.6,"y":4.4},{"series":"IRC endo","x":9.0,"y":4.4},{"series":"IRC endo","x":9.4,"y":5.0},{"series":"IRC endo","x":9.8,"y":5.0},{"series":"IRC endo","x":10.3,"y":5.6},{"series":"IRC endo","x":10.8,"y":6.4},{"series":"IRC endo","x":11.3,"y":7.2},{"series":"IRC endo","x":11.8,"y":7.9},{"series":"IRC endo","x":12.3,"y":8.6},{"series":"IRC endo","x":13.0,"y":9.8},
{"series":"IRC endo","x":15.0,"y":12.3},{"series":"IRC endo","x":18.2,"y":15.8},{"series":"IRC endo","x":22.8,"y":20.0},{"series":"IRC endo","x":28.6,"y":25.0},{"series":"IRC endo","x":34.4,"y":30.5},{"series":"IRC endo","x":39.4,"y":36.2},{"series":"IRC endo","x":43.6,"y":41.8},{"series":"IRC endo","x":48.5,"y":47.0},
{"series":"IRC endo","x":49.8,"y":48.3},{"series":"IRC endo","x":50.3,"y":49.0},{"series":"IRC endo","x":50.8,"y":49.8},{"series":"IRC endo","x":51.4,"y":50.6},{"series":"IRC endo","x":52.0,"y":51.3},{"series":"IRC endo","x":52.6,"y":52.0},{"series":"IRC endo","x":53.2,"y":52.7},{"series":"IRC endo","x":54.0,"y":51.8},{"series":"IRC endo","x":54.6,"y":54.0},{"series":"IRC endo","x":55.5,"y":55.0},{"series":"IRC endo","x":56.3,"y":55.6},{"series":"IRC endo","x":57.3,"y":55.5},{"series":"IRC endo","x":58.2,"y":57.5},{"series":"IRC endo","x":59.2,"y":58.4},{"series":"IRC endo","x":60.2,"y":58.8},{"series":"IRC endo","x":61.0,"y":59.8},{"series":"IRC endo","x":62.0,"y":60.7},{"series":"IRC endo","x":62.8,"y":61.2},{"series":"IRC endo","x":63.8,"y":61.5},
{"series":"optimum","x":-5,"y":-5},{"series":"optimum","x":85,"y":85},
{"series":"label","text":"(a)","x":-1.6,"y":77.3}
],
"b": [
{"series":"Reactants","x":45.6,"y":45.3},{"series":"Reactants","x":46.2,"y":46.0},{"series":"Reactants","x":46.8,"y":46.3},{"series":"Reactants","x":47.2,"y":46.8},{"series":"Reactants","x":46.0,"y":45.2},{"series":"Reactants","x":46.5,"y":45.6},{"series":"Reactants","x":45.9,"y":46.1},
{"series":"Reactants","x":48.0,"y":47.2},{"series":"Reactants","x":48.5,"y":48.9},{"series":"Reactants","x":49.0,"y":48.4},{"series":"Reactants","x":49.5,"y":50.1},{"series":"Reactants","x":50.0,"y":49.3},{"series":"Reactants","x":50.5,"y":50.9},{"series":"Reactants","x":51.0,"y":50.2},{"series":"Reactants","x":51.5,"y":52.0},{"series":"Reactants","x":52.0,"y":51.1},{"series":"Reactants","x":52.5,"y":53.0},{"series":"Reactants","x":53.0,"y":52.0},{"series":"Reactants","x":53.5,"y":54.2},{"series":"Reactants","x":54.0,"y":53.1},{"series":"Reactants","x":54.5,"y":55.3},{"series":"Reactants","x":55.0,"y":54.0},{"series":"Reactants","x":55.5,"y":56.4},{"series":"Reactants","x":56.0,"y":55.0},{"series":"Reactants","x":56.5,"y":57.4},{"series":"Reactants","x":57.0,"y":56.0},{"series":"Reactants","x":57.5,"y":58.3},{"series":"Reactants","x":58.0,"y":57.0},{"series":"Reactants","x":58.5,"y":59.4},{"series":"Reactants","x":59.0,"y":58.0},{"series":"Reactants","x":59.5,"y":60.5},{"series":"Reactants","x":60.0,"y":59.1},{"series":"Reactants","x":60.5,"y":61.4},{"series":"Reactants","x":61.0,"y":60.0},{"series":"Reactants","x":61.5,"y":62.4},{"series":"Reactants","x":62.0,"y":61.0},{"series":"Reactants","x":62.5,"y":63.5},{"series":"Reactants","x":63.0,"y":62.0},{"series":"Reactants","x":63.5,"y":64.4},{"series":"Reactants","x":64.0,"y":63.0},{"series":"Reactants","x":64.5,"y":65.5},{"series":"Reactants","x":65.0,"y":64.1},{"series":"Reactants","x":65.5,"y":66.4},{"series":"Reactants","x":66.0,"y":65.1},{"series":"Reactants","x":66.5,"y":67.4},{"series":"Reactants","x":67.0,"y":66.1},{"series":"Reactants","x":67.5,"y":68.3},{"series":"Reactants","x":68.0,"y":67.2},{"series":"Reactants","x":68.5,"y":69.3},{"series":"Reactants","x":69.0,"y":68.2},{"series":"Reactants","x":69.5,"y":70.2},{"series":"Reactants","x":70.0,"y":69.3},{"series":"Reactants","x":70.5,"y":71.2},{"series":"Reactants","x":71.0,"y":70.3},{"series":"Reactants","x":71.5,"y":72.1},{"series":"Reactants","x":72.0,"y":71.4},{"series":"Reactants","x":72.5,"y":73.1},{"series":"Reactants","x":73.0,"y":72.4},{"series":"Reactants","x":73.5,"y":74.0},{"series":"Reactants","x":74.0,"y":73.4},{"series":"Reactants","x":74.5,"y":75.0},{"series":"Reactants","x":75.0,"y":74.5},{"series":"Reactants","x":75.5,"y":76.0},{"series":"Reactants","x":76.0,"y":75.5},{"series":"Reactants","x":76.5,"y":77.0},{"series":"Reactants","x":77.0,"y":76.5},{"series":"Reactants","x":77.5,"y":77.9},{"series":"Reactants","x":78.0,"y":77.6},
{"series":"Reactants","x":50.2,"y":50.3},{"series":"Reactants","x":52.2,"y":52.4},{"series":"Reactants","x":54.2,"y":54.3},{"series":"Reactants","x":56.2,"y":56.1},{"series":"Reactants","x":58.2,"y":58.4},{"series":"Reactants","x":60.2,"y":60.1},{"series":"Reactants","x":62.2,"y":62.3},{"series":"Reactants","x":64.2,"y":64.1},{"series":"Reactants","x":66.2,"y":66.3},{"series":"Reactants","x":68.2,"y":68.2},{"series":"Reactants","x":70.2,"y":70.3},{"series":"Reactants","x":72.2,"y":72.1},{"series":"Reactants","x":74.2,"y":74.3},{"series":"Reactants","x":76.2,"y":76.1},{"series":"Reactants","x":57.2,"y":57.5},{"series":"Reactants","x":61.3,"y":61.2},{"series":"Reactants","x":65.3,"y":65.4},{"series":"Reactants","x":69.3,"y":69.1},{"series":"Reactants","x":73.3,"y":73.2},{"series":"Reactants","x":55.2,"y":55.6},{"series":"Reactants","x":59.3,"y":59.0},{"series":"Reactants","x":63.3,"y":63.4},{"series":"Reactants","x":67.3,"y":67.2},{"series":"Reactants","x":71.3,"y":71.4},{"series":"Reactants","x":75.3,"y":75.2},{"series":"Reactants","x":77.3,"y":77.2},
{"series":"Reactants","x":48.25,"y":48.0},{"series":"Reactants","x":48.75,"y":48.6},{"series":"Reactants","x":49.25,"y":49.5},{"series":"Reactants","x":49.75,"y":49.4},{"series":"Reactants","x":50.75,"y":50.5},{"series":"Reactants","x":51.25,"y":51.4},{"series":"Reactants","x":51.75,"y":51.3},{"series":"Reactants","x":52.75,"y":52.4},{"series":"Reactants","x":53.25,"y":53.5},{"series":"Reactants","x":53.75,"y":53.4},{"series":"Reactants","x":54.75,"y":54.5},{"series":"Reactants","x":55.75,"y":55.5},{"series":"Reactants","x":56.75,"y":56.4},{"series":"Reactants","x":57.75,"y":57.6},{"series":"Reactants","x":58.75,"y":58.5},{"series":"Reactants","x":59.75,"y":59.6},{"series":"Reactants","x":60.75,"y":60.5},{"series":"Reactants","x":61.75,"y":61.6},{"series":"Reactants","x":62.75,"y":62.5},{"series":"Reactants","x":63.75,"y":63.6},{"series":"Reactants","x":64.75,"y":64.5},{"series":"Reactants","x":65.75,"y":65.7},{"series":"Reactants","x":66.75,"y":66.5},{"series":"Reactants","x":67.75,"y":67.6},{"series":"Reactants","x":68.75,"y":68.6},{"series":"Reactants","x":69.75,"y":69.7},{"series":"Reactants","x":70.75,"y":70.6},{"series":"Reactants","x":71.75,"y":71.7},{"series":"Reactants","x":72.75,"y":72.6},{"series":"Reactants","x":73.75,"y":73.7},{"series":"Reactants","x":74.75,"y":74.6},{"series":"Reactants","x":75.75,"y":75.7},{"series":"Reactants","x":76.75,"y":76.6},{"series":"Reactants","x":77.75,"y":77.5},
{"series":"Reactants","x":54.0,"y":55.2},{"series":"Reactants","x":56.0,"y":57.1},{"series":"Reactants","x":58.0,"y":59.2},{"series":"Reactants","x":60.0,"y":61.1},{"series":"Reactants","x":62.0,"y":63.1},{"series":"Reactants","x":64.0,"y":65.0},{"series":"Reactants","x":66.0,"y":66.9},{"series":"Reactants","x":55.0,"y":53.8},{"series":"Reactants","x":57.0,"y":55.9},{"series":"Reactants","x":59.0,"y":57.9},{"series":"Reactants","x":61.0,"y":59.9},{"series":"Reactants","x":63.0,"y":61.9},{"series":"Reactants","x":65.0,"y":64.0},
{"series":"Reactants","x":53.5,"y":55.0},{"series":"Reactants","x":55.5,"y":57.2},{"series":"Reactants","x":57.5,"y":59.3},{"series":"Reactants","x":59.5,"y":61.4},{"series":"Reactants","x":61.5,"y":63.4},{"series":"Reactants","x":63.5,"y":65.3},{"series":"Reactants","x":65.5,"y":67.2},{"series":"Reactants","x":67.5,"y":69.0},{"series":"Reactants","x":69.5,"y":70.9},{"series":"Reactants","x":71.5,"y":72.8},{"series":"Reactants","x":54.5,"y":53.0},{"series":"Reactants","x":56.5,"y":55.0},{"series":"Reactants","x":58.5,"y":57.0},{"series":"Reactants","x":60.5,"y":59.0},{"series":"Reactants","x":62.5,"y":61.0},{"series":"Reactants","x":64.5,"y":63.0},{"series":"Reactants","x":66.5,"y":65.1},{"series":"Reactants","x":68.5,"y":67.2},{"series":"Reactants","x":70.5,"y":69.3},{"series":"Reactants","x":72.5,"y":71.5},{"series":"Reactants","x":74.5,"y":73.6},
{"series":"Products","x":0.0,"y":0.5},{"series":"Products","x":0.4,"y":-0.2},{"series":"Products","x":0.8,"y":1.1},{"series":"Products","x":1.2,"y":0.6},{"series":"Products","x":1.6,"y":2.0},{"series":"Products","x":2.0,"y":1.4},{"series":"Products","x":2.4,"y":2.8},{"series":"Products","x":2.8,"y":2.2},{"series":"Products","x":3.2,"y":3.5},{"series":"Products","x":3.6,"y":3.0},{"series":"Products","x":4.0,"y":4.4},{"series":"Products","x":4.4,"y":3.8},{"series":"Products","x":4.8,"y":5.2},{"series":"Products","x":5.2,"y":4.6},{"series":"Products","x":5.6,"y":6.0},{"series":"Products","x":6.0,"y":5.4},{"series":"Products","x":6.4,"y":6.8},{"series":"Products","x":6.8,"y":6.2},{"series":"Products","x":7.2,"y":7.6},{"series":"Products","x":7.6,"y":7.0},{"series":"Products","x":8.0,"y":8.4},{"series":"Products","x":8.4,"y":7.8},{"series":"Products","x":8.8,"y":9.2},{"series":"Products","x":9.2,"y":8.6},{"series":"Products","x":9.6,"y":10.0},{"series":"Products","x":10.0,"y":9.4},{"series":"Products","x":10.4,"y":10.8},{"series":"Products","x":10.8,"y":10.2},{"series":"Products","x":11.2,"y":11.6},{"series":"Products","x":11.6,"y":11.0},{"series":"Products","x":12.0,"y":12.4},{"series":"Products","x":12.4,"y":11.8},{"series":"Products","x":12.8,"y":13.2},{"series":"Products","x":13.2,"y":12.6},{"series":"Products","x":13.6,"y":14.0},{"series":"Products","x":14.0,"y":13.4},{"series":"Products","x":14.4,"y":14.8},{"series":"Products","x":14.8,"y":14.2},{"series":"Products","x":15.2,"y":15.6},{"series":"Products","x":15.6,"y":15.0},{"series":"Products","x":16.0,"y":16.4},{"series":"Products","x":16.4,"y":15.8},{"series":"Products","x":16.8,"y":17.2},{"series":"Products","x":17.2,"y":16.6},{"series":"Products","x":17.6,"y":18.0},{"series":"Products","x":18.0,"y":17.4},{"series":"Products","x":18.4,"y":18.8},{"series":"Products","x":18.8,"y":18.2},{"series":"Products","x":19.2,"y":19.6},{"series":"Products","x":19.6,"y":19.0},{"series":"Products","x":20.0,"y":20.4},{"series":"Products","x":20.4,"y":19.8},{"series":"Products","x":20.8,"y":21.2},{"series":"Products","x":21.2,"y":20.6},{"series":"Products","x":21.6,"y":22.0},{"series":"Products","x":22.0,"y":21.4},{"series":"Products","x":22.4,"y":22.8},{"series":"Products","x":22.8,"y":22.2},{"series":"Products","x":23.2,"y":23.6},{"series":"Products","x":23.6,"y":23.0},{"series":"Products","x":24.0,"y":24.4},{"series":"Products","x":24.4,"y":23.8},{"series":"Products","x":24.8,"y":25.2},{"series":"Products","x":25.2,"y":24.6},{"series":"Products","x":25.6,"y":26.0},{"series":"Products","x":26.0,"y":25.4},{"series":"Products","x":26.4,"y":26.8},{"series":"Products","x":26.8,"y":26.3},{"series":"Products","x":27.2,"y":27.4},{"series":"Products","x":27.6,"y":27.1},{"series":"Products","x":28.0,"y":28.3},{"series":"Products","x":28.6,"y":28.8},{"series":"Products","x":29.2,"y":29.2},
{"series":"Products","x":0.2,"y":0.2},{"series":"Products","x":0.6,"y":0.7},{"series":"Products","x":1.0,"y":0.9},{"series":"Products","x":1.4,"y":1.5},{"series":"Products","x":1.8,"y":1.7},{"series":"Products","x":2.2,"y":2.3},{"series":"Products","x":2.6,"y":2.5},{"series":"Products","x":3.0,"y":3.1},{"series":"Products","x":3.4,"y":3.3},{"series":"Products","x":3.8,"y":3.9},{"series":"Products","x":4.2,"y":4.1},{"series":"Products","x":4.6,"y":4.7},{"series":"Products","x":5.0,"y":4.9},{"series":"Products","x":5.4,"y":5.5},{"series":"Products","x":5.8,"y":5.7},{"series":"Products","x":6.2,"y":6.3},{"series":"Products","x":6.6,"y":6.5},{"series":"Products","x":7.0,"y":7.1},{"series":"Products","x":7.4,"y":7.3},{"series":"Products","x":7.8,"y":7.9},{"series":"Products","x":8.2,"y":8.1},{"series":"Products","x":8.6,"y":8.7},{"series":"Products","x":9.0,"y":8.9},{"series":"Products","x":9.4,"y":9.5},{"series":"Products","x":9.8,"y":9.7},{"series":"Products","x":10.2,"y":10.3},{"series":"Products","x":10.6,"y":10.5},{"series":"Products","x":11.0,"y":11.1},{"series":"Products","x":11.4,"y":11.3},{"series":"Products","x":11.8,"y":11.9},{"series":"Products","x":12.2,"y":12.1},{"series":"Products","x":12.6,"y":12.7},{"series":"Products","x":13.0,"y":12.9},{"series":"Products","x":13.4,"y":13.5},{"series":"Products","x":13.8,"y":13.7},{"series":"Products","x":14.2,"y":14.3},{"series":"Products","x":14.6,"y":14.5},{"series":"Products","x":15.0,"y":15.1},{"series":"Products","x":15.4,"y":15.3},{"series":"Products","x":15.8,"y":15.9},{"series":"Products","x":16.2,"y":16.1},{"series":"Products","x":16.6,"y":16.7},{"series":"Products","x":17.0,"y":16.9},{"series":"Products","x":17.4,"y":17.5},{"series":"Products","x":17.8,"y":17.7},{"series":"Products","x":18.2,"y":18.3},{"series":"Products","x":18.6,"y":18.5},{"series":"Products","x":19.0,"y":19.1},{"series":"Products","x":19.4,"y":19.3},{"series":"Products","x":19.8,"y":19.9},{"series":"Products","x":20.2,"y":20.1},{"series":"Products","x":20.6,"y":20.7},{"series":"Products","x":21.0,"y":20.9},{"series":"Products","x":21.4,"y":21.5},{"series":"Products","x":21.8,"y":21.7},{"series":"Products","x":22.2,"y":22.3},{"series":"Products","x":22.6,"y":22.5},{"series":"Products","x":23.0,"y":23.1},{"series":"Products","x":23.4,"y":23.3},{"series":"Products","x":23.8,"y":23.9},{"series":"Products","x":24.2,"y":24.1},{"series":"Products","x":24.6,"y":24.7},{"series":"Products","x":25.0,"y":24.9},{"series":"Products","x":25.4,"y":25.5},{"series":"Products","x":25.8,"y":25.7},{"series":"Products","x":26.2,"y":26.3},{"series":"Products","x":26.6,"y":26.5},{"series":"Products","x":27.0,"y":27.1},{"series":"Products","x":27.4,"y":27.3},{"series":"Products","x":27.8,"y":27.9},
{"series":"IRC exo","x":6.0,"y":6.1},{"series":"IRC exo","x":7.0,"y":7.2},{"series":"IRC exo","x":8.0,"y":8.1},{"series":"IRC exo","x":9.0,"y":9.0},{"series":"IRC exo","x":11.0,"y":11.0},{"series":"IRC exo","x":13.3,"y":13.3},{"series":"IRC exo","x":19.2,"y":19.2},{"series":"IRC exo","x":23.4,"y":23.4},{"series":"IRC exo","x":28.3,"y":28.3},{"series":"IRC exo","x":33.8,"y":33.8},{"series":"IRC exo","x":39.4,"y":39.4},{"series":"IRC exo","x":45.0,"y":45.0},{"series":"IRC exo","x":49.0,"y":49.2},{"series":"IRC exo","x":50.0,"y":50.2},{"series":"IRC exo","x":51.0,"y":51.2},{"series":"IRC exo","x":52.0,"y":52.1},{"series":"IRC exo","x":53.0,"y":53.2},{"series":"IRC exo","x":54.0,"y":54.1},{"series":"IRC exo","x":55.0,"y":55.2},{"series":"IRC exo","x":56.0,"y":56.1},{"series":"IRC exo","x":57.0,"y":57.1},{"series":"IRC exo","x":58.0,"y":58.1},{"series":"IRC exo","x":59.0,"y":59.1},{"series":"IRC exo","x":60.0,"y":60.1},{"series":"IRC exo","x":61.0,"y":61.2},{"series":"IRC exo","x":62.0,"y":62.2},{"series":"IRC exo","x":63.0,"y":63.2},{"series":"IRC exo","x":64.0,"y":64.0},
{"series":"IRC endo","x":-0.3,"y":-0.1},{"series":"IRC endo","x":0.0,"y":0.2},{"series":"IRC endo","x":0.4,"y":0.3},{"series":"IRC endo","x":0.8,"y":0.9},{"series":"IRC endo","x":1.2,"y":1.1},{"series":"IRC endo","x":1.6,"y":1.7},{"series":"IRC endo","x":2.0,"y":1.9},{"series":"IRC endo","x":2.4,"y":2.5},{"series":"IRC endo","x":2.8,"y":2.7},{"series":"IRC endo","x":3.2,"y":3.3},{"series":"IRC endo","x":3.6,"y":3.5},{"series":"IRC endo","x":4.0,"y":4.1},{"series":"IRC endo","x":4.4,"y":4.3},{"series":"IRC endo","x":4.8,"y":4.8},{"series":"IRC endo","x":5.5,"y":5.5},{"series":"IRC endo","x":6.4,"y":6.4},{"series":"IRC endo","x":7.5,"y":7.5},{"series":"IRC endo","x":8.2,"y":8.2},{"series":"IRC endo","x":10.0,"y":10.0},{"series":"IRC endo","x":12.3,"y":12.3},{"series":"IRC endo","x":15.8,"y":15.8},{"series":"IRC endo","x":20.0,"y":20.0},{"series":"IRC endo","x":25.0,"y":25.0},{"series":"IRC endo","x":30.5,"y":30.5},{"series":"IRC endo","x":36.0,"y":36.0},{"series":"IRC endo","x":41.7,"y":41.7},{"series":"IRC endo","x":47.3,"y":47.5},{"series":"IRC endo","x":48.0,"y":48.0},{"series":"IRC endo","x":48.6,"y":48.5},{"series":"IRC endo","x":49.2,"y":49.0},{"series":"IRC endo","x":49.8,"y":49.6},{"series":"IRC endo","x":50.4,"y":50.2},{"series":"IRC endo","x":51.0,"y":50.8},{"series":"IRC endo","x":51.6,"y":51.4},{"series":"IRC endo","x":52.2,"y":52.0},{"series":"IRC endo","x":52.8,"y":52.6},{"series":"IRC endo","x":53.4,"y":53.2},{"series":"IRC endo","x":54.0,"y":53.8},{"series":"IRC endo","x":54.6,"y":54.4},{"series":"IRC endo","x":55.3,"y":55.0},{"series":"IRC endo","x":56.0,"y":55.7},{"series":"IRC endo","x":56.8,"y":56.5},{"series":"IRC endo","x":57.6,"y":57.3},{"series":"IRC endo","x":58.4,"y":58.1},{"series":"IRC endo","x":59.2,"y":58.9},{"series":"IRC endo","x":60.0,"y":59.7},{"series":"IRC endo","x":61.0,"y":60.6},{"series":"IRC endo","x":62.0,"y":61.5},
{"series":"optimum","x":-5,"y":-5},{"series":"optimum","x":85,"y":85},
{"series":"label","text":"(b)","x":-1.4,"y":77.4}
]
},
"hconcat": [
{
"width": 512, "height": 512,
"data": {"name": "a"},
"layer": [
{"transform": [{"filter": "datum.series !== 'optimum' && datum.series !== 'label'"}],
"mark": {"type": "point", "filled": false, "size": 196, "strokeWidth": 2, "opacity": 1, "clip": true},
"encoding": {
"x": {"field": "x", "type": "quantitative", "scale": {"domain": [-5, 85], "nice": false, "zero": false}, "axis": {"values": [0,10,20,30,40,50,60,70,80], "title": "E(MS-ARMD) (kcal/mol)"}},
"y": {"field": "y", "type": "quantitative", "scale": {"domain": [-5, 85], "nice": false, "zero": false}, "axis": {"values": [0,10,20,30,40,50,60,70,80], "title": "E(M06-2X) (kcal/mol)"}},
"color": {"field": "series", "type": "nominal",
"scale": {"domain": ["Reactants","Products","IRC exo","IRC endo","optimum"], "range": ["#D95319","#0072BD","#77AC30","#EDB120","#000000"]},
"legend": {"title": null, "orient": "none", "legendX": 450, "legendY": 406, "labelAlign": "right", "labelOffset": -49, "symbolSize": 196, "symbolStrokeWidth": 2, "rowPadding": -6, "padding": 0}},
"shape": {"field": "series", "type": "nominal",
"scale": {"domain": ["Reactants","Products","IRC exo","IRC endo","optimum"], "range": ["M-1,0H1M0,-1V1","M-1,0H1M0,-1V1","M-1,0H1M0,-1V1","M-1,0H1M0,-1V1","M-4,0H4"]},
"legend": {"title": null, "orient": "none", "legendX": 450, "legendY": 406, "labelAlign": "right", "labelOffset": -49, "symbolSize": 196, "symbolStrokeWidth": 2, "rowPadding": -6, "padding": 0}},
"strokeDash": {"field": "series", "type": "nominal",
"scale": {"domain": ["Reactants","Products","IRC exo","IRC endo","optimum"], "range": [[1,0],[1,0],[1,0],[1,0],[3.5,2.5]]},
"legend": {"title": null, "orient": "none", "legendX": 450, "legendY": 406, "labelAlign": "right", "labelOffset": -49, "symbolSize": 196, "symbolStrokeWidth": 2, "rowPadding": -6, "padding": 0}}
}},
{"transform": [{"filter": "datum.series === 'label'"}],
"mark": {"type": "text", "font": "DejaVu Sans", "fontWeight": "bold", "fontSize": 25, "align": "left", "baseline": "alphabetic", "color": "black"},
"encoding": {"x": {"field": "x", "type": "quantitative"}, "y": {"field": "y", "type": "quantitative"}, "text": {"field": "text"}}},
{"transform": [{"filter": "datum.series === 'optimum'"}],
"mark": {"type": "line", "color": "black", "strokeWidth": 2, "strokeDash": [3.5, 2.5], "clip": true},
"encoding": {"x": {"field": "x", "type": "quantitative"}, "y": {"field": "y", "type": "quantitative"}}}
]
},
{
"width": 512, "height": 512,
"data": {"name": "b"},
"layer": [
{"transform": [{"filter": "datum.series !== 'optimum' && datum.series !== 'label'"}],
"mark": {"type": "point", "filled": false, "size": 196, "strokeWidth": 2, "opacity": 1, "clip": true},
"encoding": {
"x": {"field": "x", "type": "quantitative", "scale": {"domain": [-5, 85], "nice": false, "zero": false}, "axis": {"values": [0,10,20,30,40,50,60,70,80], "title": "E(PhysNet) (kcal/mol)"}},
"y": {"field": "y", "type": "quantitative", "scale": {"domain": [-5, 85], "nice": false, "zero": false}, "axis": {"values": [0,10,20,30,40,50,60,70,80], "title": null}},
"color": {"field": "series", "type": "nominal",
"scale": {"domain": ["Reactants","Products","IRC exo","IRC endo","optimum"], "range": ["#D95319","#0072BD","#77AC30","#EDB120","#000000"]},
"legend": {"title": null, "orient": "none", "legendX": 450, "legendY": 406, "labelAlign": "right", "labelOffset": -49, "symbolSize": 196, "symbolStrokeWidth": 2, "rowPadding": -6, "padding": 0}},
"shape": {"field": "series", "type": "nominal",
"scale": {"domain": ["Reactants","Products","IRC exo","IRC endo","optimum"], "range": ["M-1,0H1M0,-1V1","M-1,0H1M0,-1V1","M-1,0H1M0,-1V1","M-1,0H1M0,-1V1","M-4,0H4"]},
"legend": {"title": null, "orient": "none", "legendX": 450, "legendY": 406, "labelAlign": "right", "labelOffset": -49, "symbolSize": 196, "symbolStrokeWidth": 2, "rowPadding": -6, "padding": 0}},
"strokeDash": {"field": "series", "type": "nominal",
"scale": {"domain": ["Reactants","Products","IRC exo","IRC endo","optimum"], "range": [[1,0],[1,0],[1,0],[1,0],[3.5,2.5]]},
"legend": {"title": null, "orient": "none", "legendX": 450, "legendY": 406, "labelAlign": "right", "labelOffset": -49, "symbolSize": 196, "symbolStrokeWidth": 2, "rowPadding": -6, "padding": 0}}
}},
{"transform": [{"filter": "datum.series === 'label'"}],
"mark": {"type": "text", "font": "DejaVu Sans", "fontWeight": "bold", "fontSize": 25, "align": "left", "baseline": "alphabetic", "color": "black"},
"encoding": {"x": {"field": "x", "type": "quantitative"}, "y": {"field": "y", "type": "quantitative"}, "text": {"field": "text"}}},
{"transform": [{"filter": "datum.series === 'optimum'"}],
"mark": {"type": "line", "color": "black", "strokeWidth": 2, "strokeDash": [3.5, 2.5], "clip": true},
"encoding": {"x": {"field": "x", "type": "quantitative"}, "y": {"field": "y", "type": "quantitative"}}}
]
}
],
"resolve": {"scale": {"color": "independent", "shape": "independent", "strokeDash": "independent"}, "legend": {"color": "independent", "shape": "independent", "strokeDash": "independent"}},
"config": {
"view": {"stroke": "black", "strokeWidth": 2},
"axis": {"grid": false, "domain": false, "tickColor": "black", "tickSize": 6, "tickWidth": 2, "labelFlush": false, "labelOverlap": false, "labelFont": "DejaVu Sans", "labelFontWeight": "bold", "labelFontSize": 20, "labelColor": "black", "titleFont": "DejaVu Sans", "titleFontWeight": "bold", "titleFontSize": 20, "titleColor": "black"},
"axisX": {"labelPadding": 12, "titlePadding": 10},
"axisY": {"labelPadding": 13, "titlePadding": 19},
"legend": {"labelFont": "DejaVu Sans", "labelFontWeight": "bold", "labelFontSize": 20, "labelColor": "black", "labelLimit": 400}
}
}
